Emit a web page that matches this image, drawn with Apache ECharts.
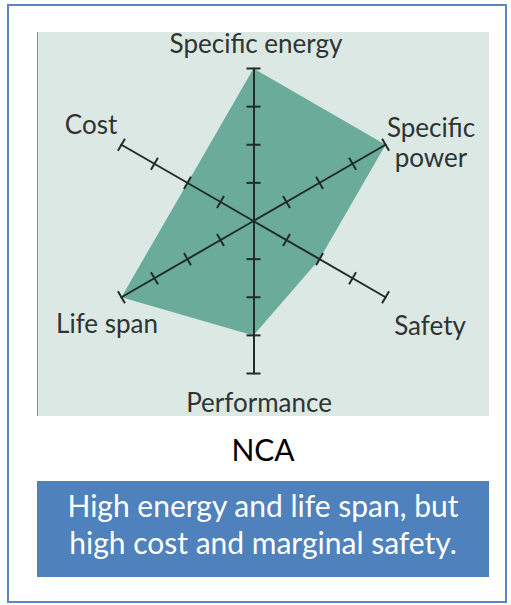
<!DOCTYPE html>
<html>
<head>
<meta charset="utf-8">
<style>
  html, body { margin: 0; padding: 0; background: #ffffff; }
  #chart { width: 511px; height: 605px; }
</style>
<script src="https://cdn.jsdelivr.net/npm/echarts@6/dist/echarts.min.js"></script>
</head>
<body>
<div id="chart"></div>
<script>
// Radar axes, listed counter-clockwise from the top
const indicators = ['Specific energy', 'Cost', 'Life span', 'Performance', 'Safety', 'Specific power'];
// NCA scores on a 0-4 scale
const ncaScores = [4, 2, 4, 3, 2, 4];
// Tick marks drawn as cross-bars on each spoke
const tickValues = [1, 2, 3, 4];
const scaleMax = 4;
const chemistry = 'NCA';
const summary = ['High energy and life span, but', 'high cost and marginal safety.'];

const CX = 253.5, CY = 221, R = 152.5;
const FONT = 'Lato, "Open Sans", sans-serif';

// Where each axis name sits around the web
const namePos = {
  'Specific energy': [256, 43],
  'Cost': [91, 124],
  'Life span': [107, 323],
  'Performance': [259, 402],
  'Safety': [430, 325],
  'Specific power': [431, 142]
};

const stepDeg = 360 / indicators.length;
const tickData = [];
indicators.forEach((name, i) => {
  tickValues.forEach(v => tickData.push([v, i * stepDeg]));
});

const chart = echarts.init(document.getElementById('chart'), null, { renderer: 'svg' });

const nameTexts = indicators.map(name => ({
  type: 'text',
  x: namePos[name][0],
  y: namePos[name][1],
  z: 10,
  style: {
    text: name === 'Specific power' ? 'Specific\npower' : name,
    fill: '#2f3432',
    font: '26px ' + FONT,
    align: 'center',
    verticalAlign: 'middle',
    lineHeight: 30
  }
}));

// Summary box lines, one text element per line
const summaryTexts = summary.map((line, i) => ({
  type: 'text',
  x: 263,
  y: 505 + i * 37,
  z: 10,
  style: { text: line, fill: '#ffffff', font: '30px ' + FONT,
           align: 'center', verticalAlign: 'middle' }
}));

chart.setOption({
  animation: false,
  graphic: [
    // outer frame
    { type: 'rect', shape: { x: 8, y: 5, width: 498, height: 597 }, z: 0,
      style: { fill: '#ffffff', stroke: '#5b87c5', lineWidth: 2 } },
    // chart panel
    { type: 'rect', shape: { x: 37, y: 32, width: 452, height: 384 }, z: 0,
      style: { fill: '#dce8e4' } },
    { type: 'line', shape: { x1: 37.5, y1: 32, x2: 37.5, y2: 416 }, z: 0,
      style: { stroke: '#8c918f', lineWidth: 1 } },
    ...nameTexts,
    { type: 'text', x: 263, y: 449, z: 10,
      style: { text: chemistry, fill: '#000000', font: '30px ' + FONT,
               align: 'center', verticalAlign: 'middle' } },
    { type: 'rect', shape: { x: 37, y: 481, width: 452, height: 96 }, z: 1,
      style: { fill: '#4f81bd' } },
    ...summaryTexts
  ],
  radar: {
    center: [CX, CY],
    radius: R,
    startAngle: 90,
    splitNumber: tickValues.length,
    shape: 'polygon',
    z: 3,
    indicator: indicators.map(name => ({ name: name, min: 0, max: scaleMax })),
    axisName: { show: false },
    axisLine: { lineStyle: { color: '#202d29', width: 2 } },
    axisTick: { show: false },
    splitLine: { show: false },
    splitArea: { show: false }
  },
  polar: { center: [CX, CY], radius: R },
  angleAxis: { type: 'value', min: 0, max: 360, startAngle: 90, clockwise: false, show: false },
  radiusAxis: { type: 'value', min: 0, max: scaleMax, show: false },
  series: [
    {
      type: 'radar',
      z: 1,
      symbol: 'none',
      lineStyle: { width: 0 },
      areaStyle: { color: '#6aab99', opacity: 1 },
      data: [{ value: ncaScores, name: chemistry }]
    },
    {
      type: 'custom',
      coordinateSystem: 'polar',
      z: 4,
      data: tickData,
      renderItem: function (params, api) {
        const p = api.coord([api.value(0), api.value(1)]);
        const a = (90 + api.value(1)) * Math.PI / 180;
        const h = 7;
        const px = Math.sin(a) * h, py = Math.cos(a) * h;
        return {
          type: 'line',
          shape: { x1: p[0] - px, y1: p[1] - py, x2: p[0] + px, y2: p[1] + py },
          style: { stroke: '#202d29', lineWidth: 2 }
        };
      }
    }
  ]
});
</script>
</body>
</html>
